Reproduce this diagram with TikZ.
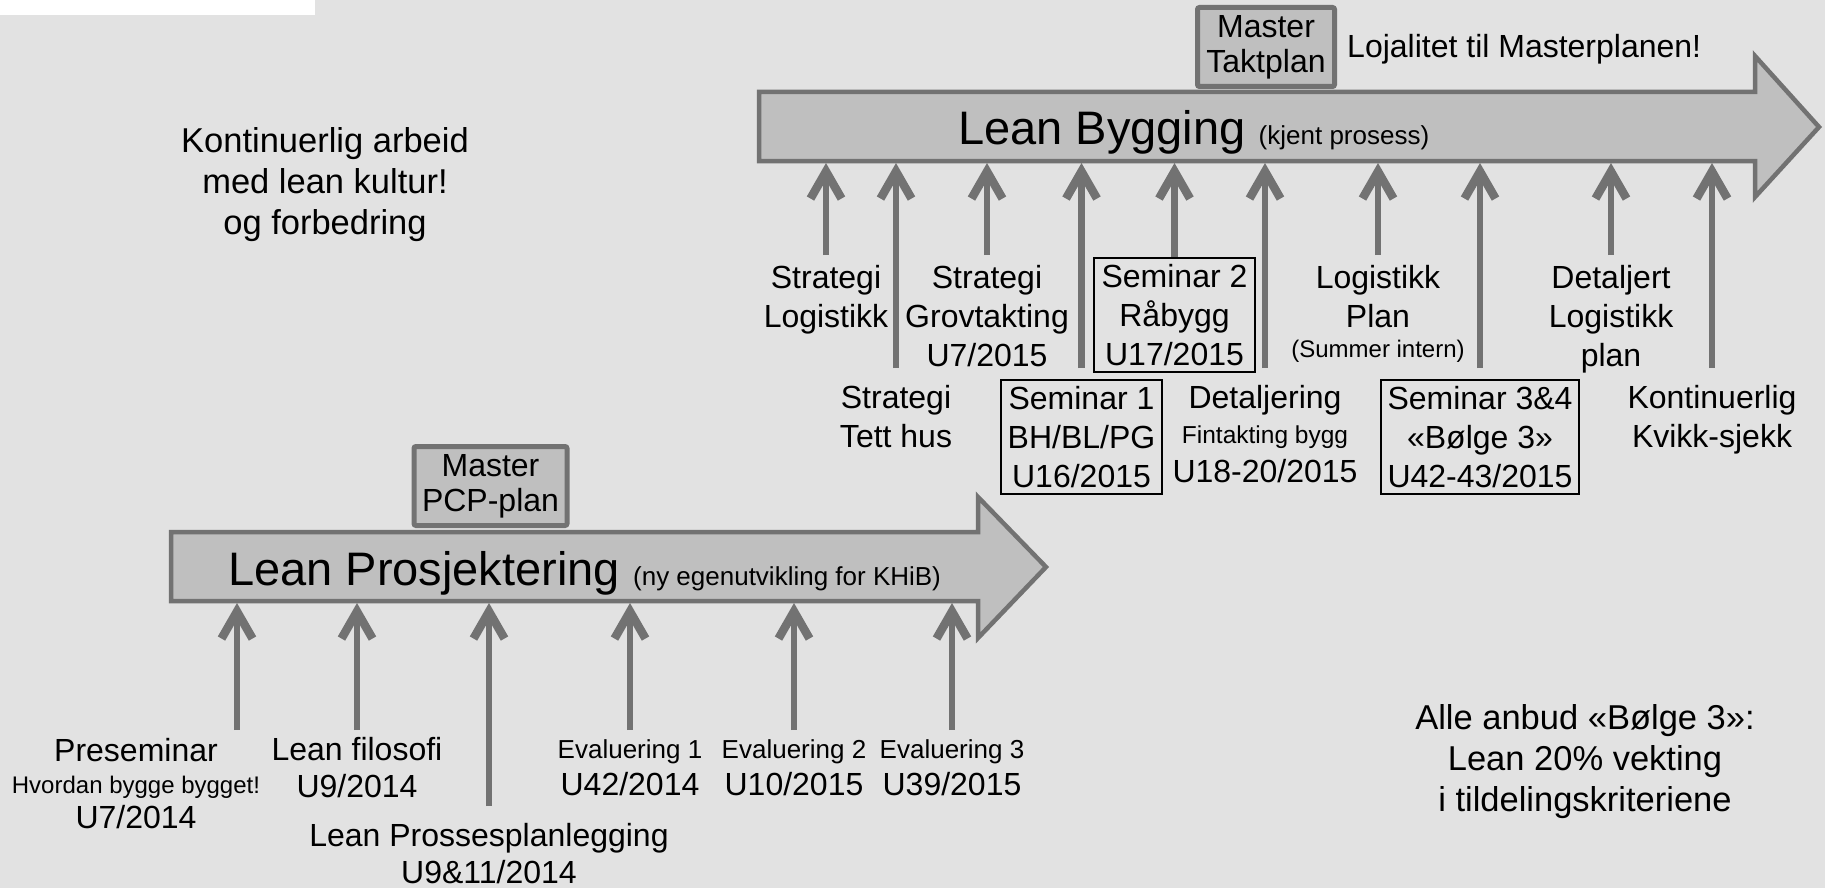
\documentclass[tikz,border=0pt]{standalone}
\usepackage{fontspec}
\setmainfont{Liberation Sans}
\usepackage{tikz}
\usetikzlibrary{arrows.meta, calc}
\definecolor{bggray}{HTML}{E2E2E2}
\definecolor{arrowfill}{HTML}{BFBFBF}
\definecolor{arrowline}{HTML}{727272}
\tikzstyle{bigarrow} = [fill=arrowfill, draw=arrowline, line width=4.5pt, miter limit=10]
\tikzstyle{masterbox} = [fill=arrowfill, draw=arrowline, line width=5pt, rounded corners=2pt, inner sep=0pt, align=center, minimum height=79pt, font=\fontsize{32}{35}\selectfont]
\tikzstyle{semibox} = [draw=black, line width=2pt, inner sep=0pt, align=center, minimum height=114pt, font=\fontsize{32}{39}\selectfont]
\tikzstyle{lab} = [inner sep=0pt, align=center, anchor=base, font=\fontsize{32}{39}\selectfont]
\tikzstyle{lowlab} = [lab, font=\fontsize{32}{36.5}\selectfont]
\tikzstyle{bigtext} = [lab, font=\fontsize{34.5}{41}\selectfont]
\tikzstyle{uparrow} = [draw=arrowline, line width=6.5pt, -{Straight Barb[length=27pt, width=31pt, line width=8.5pt]}]

\begin{document}
\begin{tikzpicture}[x=1pt, y=-1pt]
	\useasboundingbox (0,0) rectangle (1825,888);
	\fill[bggray] (0,0) rectangle (1825,888);
	\fill[white] (0,0) rectangle (315,15);

	% Lean Bygging
	\draw[bigarrow] (759,92) -- (1755,92) -- (1755,56) -- (1819,127) -- (1755,197) -- (1755,161) -- (759,161) -- cycle;
	\coordinate (byggbot) at (0,163);
	\node[anchor=base west, inner sep=0pt] (byggtxt) at (958,145) {\fontsize{47}{56}\selectfont Lean Bygging {\fontsize{26}{31}\selectfont (kjent prosess)}};
	\node[masterbox, minimum width=137pt] (taktplan) at (1266,47) {Master\\Taktplan};
	\node[lab, anchor=base west] (lojal) at (1347,58) {Lojalitet til Masterplanen!};

	% Lean Prosjektering
	\draw[bigarrow] (171,532) -- (978,532) -- (978,497) -- (1046,567) -- (978,638) -- (978,601) -- (171,601) -- cycle;
	\coordinate (prosjbot) at (0,603);
	\node[anchor=base west, inner sep=0pt] (prosjtxt) at (228,585) {\fontsize{47}{56}\selectfont Lean Prosjektering {\fontsize{26}{31}\selectfont (ny egenutvikling for KHiB)}};
	\node[masterbox, minimum width=153pt] (pcpplan) at (490.5,486) {Master\\PCP-plan};

	% base = last line
	\node[bigtext] (kontarb) at (325,234) {Kontinuerlig arbeid\\med lean kultur!\\og forbedring};
	\node[bigtext] (anbud) at (1585,811.5) {Alle anbud «Bølge 3»:\\Lean 20\% vekting\\i tildelingskriteriene};

	% upper labels
	\node[lab] (strlog) at (826,327) {Strategi\\Logistikk};
	\node[lab] (strtett) at (896,447) {Strategi\\Tett hus};
	\node[lab] (strgrov) at (987,366) {Strategi\\Grovtakting\\U7/2015};
	\node[semibox, minimum width=161pt] (sem1) at (1081.5,437) {Seminar 1\\BH/BL/PG\\U16/2015};
	\node[semibox, minimum width=161pt] (sem2) at (1174.5,315) {Seminar 2\\Råbygg\\U17/2015};
	\node[lab] (detalj) at (1265,482) {Detaljering\\[-4pt]{\fontsize{24.5}{29}\selectfont Fintakting bygg}\\U18-20/2015};
	\node[lab] (logplan) at (1378,357) {Logistikk\\Plan\\[-9pt]{\fontsize{24}{29}\selectfont (Summer intern)}};
	\node[semibox, minimum width=198pt] (sem34) at (1480,437) {Seminar 3\&4\\«Bølge 3»\\U42-43/2015};
	\node[lab] (detlog) at (1611,366) {Detaljert\\Logistikk\\plan};
	\node[lab] (kvikk) at (1712,447) {Kontinuerlig\\Kvikk-sjekk};

	\coordinate (shortend) at (0,255);
	\coordinate (longend) at (0,368);
	\foreach \lab/\e in {strlog/shortend, strtett/longend, strgrov/shortend, sem1/longend, detalj/longend, logplan/shortend, sem34/longend, detlog/shortend, kvikk/longend}
		\draw[uparrow] (\lab |- \e) -- (\lab |- byggbot);
	\draw[uparrow] (sem2.north) -- (sem2 |- byggbot);

	% lower labels
	\node[lowlab] (presem) at (136,828) {Preseminar\\[-4.5pt]{\fontsize{24}{29}\selectfont Hvordan bygge bygget!}\\[-1.5pt]U7/2014};
	\node[lowlab] (filosofi) at (357,797) {Lean filosofi\\U9/2014};
	\node[lowlab] (prosplan) at (489,883) {Lean Prossesplanlegging\\U9\&11/2014};
	\node[lowlab] (eval1) at (630,795) {{\fontsize{26}{31}\selectfont Evaluering 1}\\U42/2014};
	\node[lowlab] (eval2) at (794,795) {{\fontsize{26}{31}\selectfont Evaluering 2}\\U10/2015};
	\node[lowlab] (eval3) at (952,795) {{\fontsize{26}{31}\selectfont Evaluering 3}\\U39/2015};

	\coordinate (lowshort) at (0,730);
	\coordinate (lowlong) at (0,806);
	\coordinate (presemarrow) at (237,730);
	\draw[uparrow] (presemarrow) -- (presemarrow |- prosjbot);
	\foreach \lab/\e in {filosofi/lowshort, prosplan/lowlong, eval1/lowshort, eval2/lowshort, eval3/lowshort}
		\draw[uparrow] (\lab |- \e) -- (\lab |- prosjbot);
\end{tikzpicture}
\end{document}
